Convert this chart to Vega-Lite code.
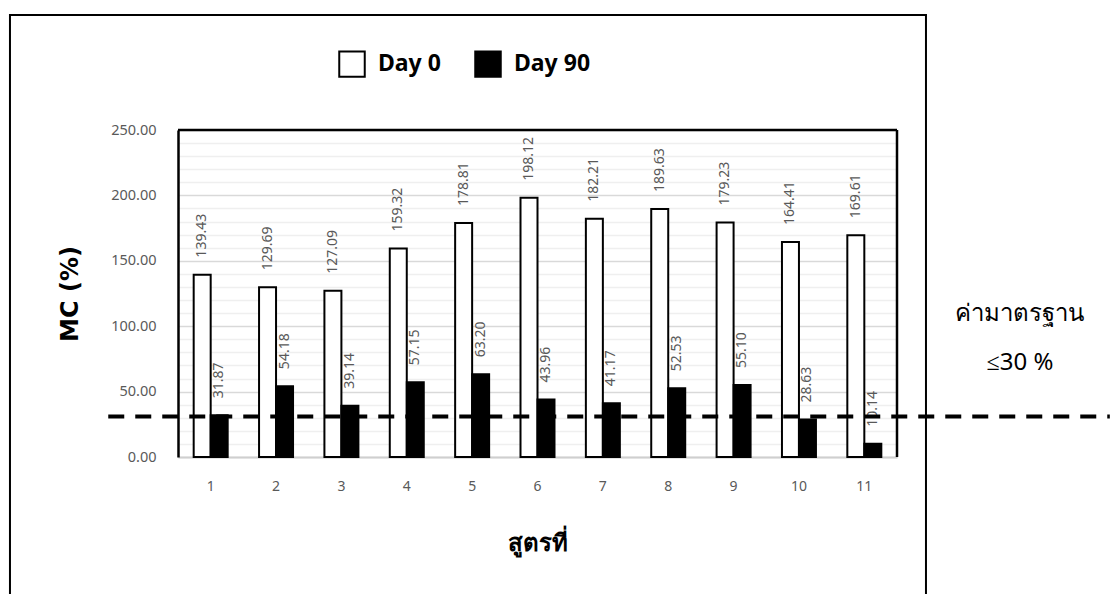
{
  "$schema": "https://vega.github.io/schema/vega-lite/v6.json",
  "width": 719,
  "height": 327,
  "autosize": {"type": "none"},
  "padding": {"left": 178, "top": 130, "right": 213, "bottom": 137},
  "background": "white",
  "config": {
    "view": {"stroke": null},
    "font": "DejaVu Sans"
  },
  "datasets": {
    "bars": [
      {"f": 1, "day": "Day 0", "mc": 139.43}, {"f": 2, "day": "Day 0", "mc": 129.69},
      {"f": 3, "day": "Day 0", "mc": 127.09}, {"f": 4, "day": "Day 0", "mc": 159.32},
      {"f": 5, "day": "Day 0", "mc": 178.81}, {"f": 6, "day": "Day 0", "mc": 198.12},
      {"f": 7, "day": "Day 0", "mc": 182.21}, {"f": 8, "day": "Day 0", "mc": 189.63},
      {"f": 9, "day": "Day 0", "mc": 179.23}, {"f": 10, "day": "Day 0", "mc": 164.41},
      {"f": 11, "day": "Day 0", "mc": 169.61},
      {"f": 1, "day": "Day 90", "mc": 31.87}, {"f": 2, "day": "Day 90", "mc": 54.18},
      {"f": 3, "day": "Day 90", "mc": 39.14}, {"f": 4, "day": "Day 90", "mc": 57.15},
      {"f": 5, "day": "Day 90", "mc": 63.20}, {"f": 6, "day": "Day 90", "mc": 43.96},
      {"f": 7, "day": "Day 90", "mc": 41.17}, {"f": 8, "day": "Day 90", "mc": 52.53},
      {"f": 9, "day": "Day 90", "mc": 55.10}, {"f": 10, "day": "Day 90", "mc": 28.63},
      {"f": 11, "day": "Day 90", "mc": 10.14}
    ],
    "frame": [{"x": -0.2337, "x2": 1.0403, "y": 337.9, "y2": -130}],
    "border": [
      {"x": 0, "x2": 1, "y": 250, "y2": 250},
      {"x": 1, "x2": 1, "y": 0, "y2": 250}
    ],
    "limit": [{"x": -0.097, "x2": 1.296, "y": 31}],
    "note": [
      {"label": "ค่ามาตรฐาน", "x": 1.171, "y": 109},
      {"label": "≤30 %", "x": 1.171, "y": 72}
    ]
  },
  "layer": [
    {
      "data": {"name": "bars"},
      "encoding": {
        "x": {
          "field": "f", "type": "ordinal",
          "scale": {"paddingInner": 0.48, "paddingOuter": 0.24},
          "axis": {
            "labelAngle": 0, "ticks": false, "labelPadding": 22,
            "labelFont": "Noto Sans", "labelFontSize": 14, "labelColor": "#595959",
            "domainColor": "#cfcfcf", "domainWidth": 2,
            "title": "สูตรที่", "titleFontSize": 24, "titleFontWeight": "bold",
            "titleColor": "black", "titlePadding": 38
          }
        },
        "xOffset": {"field": "day", "type": "nominal", "scale": {"paddingInner": 0, "paddingOuter": 0}},
        "y": {
          "field": "mc", "type": "quantitative",
          "scale": {"domain": [0, 250], "nice": false},
          "axis": {
            "values": [0, 10, 20, 30, 40, 50, 60, 70, 80, 90, 100, 110, 120, 130, 140, 150, 160, 170, 180, 190, 200, 210, 220, 230, 240, 250],
            "labelExpr": "datum.value % 50 === 0 ? format(datum.value, '.2f') : ''",
            "labelOverlap": false,
            "ticks": false, "labelPadding": 22,
            "labelFont": "Noto Sans", "labelFontSize": 14.5, "labelColor": "#595959",
            "gridColor": {"condition": {"test": "datum.value % 50 === 0", "value": "#d9d9d9"}, "value": "#efefef"},
            "gridWidth": 1.5,
            "domainColor": "black", "domainWidth": 2.5,
            "title": "MC (%)", "titleFontSize": 24, "titleFontWeight": "bold",
            "titleColor": "black", "titlePadding": 28
          }
        }
      },
      "layer": [
        {
          "mark": {"type": "bar", "stroke": "black", "strokeWidth": 2},
          "encoding": {
            "fill": {
              "field": "day", "type": "nominal",
              "scale": {"domain": ["Day 0", "Day 90"], "range": ["white", "black"]},
              "legend": {
                "orient": "none", "legendX": 160, "legendY": -80,
                "direction": "horizontal", "title": null,
                "symbolType": "square", "symbolSize": 650,
                "symbolStrokeColor": "black", "symbolStrokeWidth": 2,
                "labelFontSize": 23, "labelFontWeight": "bold", "labelColor": "black",
                "labelFont": "Noto Sans", "labelOffset": 12, "columnPadding": 30
              }
            }
          }
        },
        {
          "mark": {"type": "text", "angle": 270, "align": "left", "baseline": "middle", "dx": 17, "font": "Noto Sans", "fontSize": 14, "color": "#595959"},
          "encoding": {"text": {"field": "mc", "type": "quantitative", "format": ".2f"}}
        }
      ]
    },
    {
      "layer": [
        {
          "data": {"name": "frame"},
          "mark": {"type": "rect", "fill": null, "stroke": "black", "strokeWidth": 2, "clip": false},
          "encoding": {
            "x": {"field": "x", "type": "quantitative", "scale": {"domain": [0, 1], "nice": false, "zero": false}, "axis": null},
            "x2": {"field": "x2"},
            "y": {"field": "y", "type": "quantitative", "scale": {"domain": [0, 250], "nice": false}, "axis": null},
            "y2": {"field": "y2"}
          }
        },
        {
          "data": {"name": "border"},
          "mark": {"type": "rule", "color": "black", "strokeWidth": 2.5, "clip": false},
          "encoding": {
            "x": {"field": "x", "type": "quantitative", "scale": {"domain": [0, 1], "nice": false, "zero": false}, "axis": null},
            "x2": {"field": "x2"},
            "y": {"field": "y", "type": "quantitative", "scale": {"domain": [0, 250], "nice": false}, "axis": null},
            "y2": {"field": "y2"}
          }
        },
        {
          "data": {"name": "limit"},
          "mark": {"type": "rule", "color": "black", "strokeWidth": 4, "strokeDash": [16, 11], "clip": false},
          "encoding": {
            "x": {"field": "x", "type": "quantitative", "scale": {"domain": [0, 1], "nice": false, "zero": false}, "axis": null},
            "x2": {"field": "x2"},
            "y": {"field": "y", "type": "quantitative", "scale": {"domain": [0, 250], "nice": false}, "axis": null}
          }
        },
        {
          "data": {"name": "note"},
          "mark": {"type": "text", "fontSize": 24, "color": "black", "align": "center", "baseline": "middle", "font": "Noto Sans", "clip": false},
          "encoding": {
            "x": {"field": "x", "type": "quantitative", "scale": {"domain": [0, 1], "nice": false, "zero": false}, "axis": null},
            "y": {"field": "y", "type": "quantitative", "scale": {"domain": [0, 250], "nice": false}, "axis": null},
            "text": {"field": "label"}
          }
        }
      ]
    }
  ],
  "resolve": {"scale": {"x": "independent"}, "axis": {"x": "independent", "y": "independent"}}
}
